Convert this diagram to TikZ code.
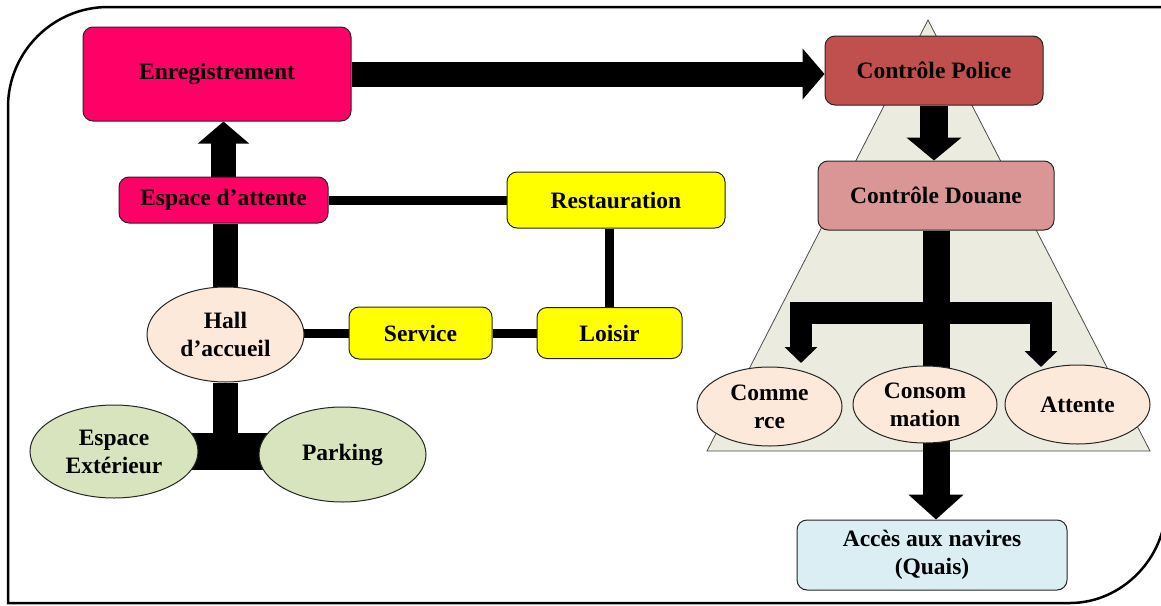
\documentclass[tikz,border=0pt]{standalone}
\usepackage{fontspec}
\setmainfont{Liberation Serif}
\usetikzlibrary{arrows.meta,shapes.geometric}
\definecolor{FlowPink}{HTML}{FF0066}
\definecolor{FlowRed}{HTML}{C0504D}
\definecolor{FlowRose}{HTML}{D99694}
\definecolor{FlowYellow}{HTML}{FFFF00}
\definecolor{FlowPeach}{HTML}{FDE9D9}
\definecolor{FlowGreen}{HTML}{D7E4BD}
\definecolor{FlowBlue}{HTML}{DBEEF3}
\definecolor{FlowSand}{HTML}{ECEBE0}
\pgfdeclarelayer{background}
\pgfsetlayers{background,main}
\tikzset{
  every node/.style={font=\bfseries\fontsize{23.5}{28}\selectfont, text=black, align=center},
  box/.style={draw=black!85, line width=1pt, rounded corners=10pt, inner sep=0pt},
  zone/.style={ellipse, draw=black!85, line width=1pt, inner sep=0pt},
  frame/.style={draw=black, line width=2.5pt},
  link/.style={draw=black, line width=9pt},
  trunk/.style={draw=black, line width=25pt},
  flow/.style={-{Triangle[length=22pt,width=50pt]}, draw=black, line width=25pt},
  branch/.style={-{Triangle[length=16pt,width=32pt]}, draw=black, line width=22pt},
}

\begin{document}
\begin{tikzpicture}[x=1pt,y=-1pt]
  \useasboundingbox (0,0) rectangle (1161,605);

  % Landside: check-in and the hall
  \node[box, fill=FlowPink, minimum width=268, minimum height=94] (enreg) at (217,74) {Enregistrement};
  \node[box, fill=FlowPink, minimum width=209, minimum height=46] (attente) at (223.5,200) {Espace d’attente};
  \node[box, fill=FlowYellow, minimum width=218, minimum height=56] (resto) at (616,200) {Restauration};
  \node[box, fill=FlowYellow, minimum width=143, minimum height=52] (service) at (420.5,333) {Service};
  \node[box, fill=FlowYellow, minimum width=145, minimum height=51] (loisir) at (609.5,333) {Loisir};
  \node[zone, fill=FlowPeach, minimum width=157, minimum height=95] (hall) at (225.5,334.5) {Hall\\d’accueil};
  \node[zone, fill=FlowGreen, minimum width=168, minimum height=93] (exterieur) at (114,451.5) {Espace\\Extérieur};
  \node[zone, fill=FlowGreen, minimum width=167, minimum height=95] (parking) at (342.5,454.5) {Parking};

  % Controlled side: police, customs, then boarding
  \node[box, fill=FlowRed, minimum width=218, minimum height=69] (police) at (934,70.5) {Contrôle Police};
  \node[box, fill=FlowRose, minimum width=236, minimum height=69] (douane) at (936,195.5) {Contrôle Douane};
  \node[zone, fill=FlowPeach, minimum width=145, minimum height=79] (commerce) at (769.5,406.5) {Comme\\rce};
  \node[zone, fill=FlowPeach, minimum width=144, minimum height=77] (conso) at (925,404.5) {Consom\\mation};
  \node[zone, fill=FlowPeach, minimum width=145, minimum height=79] (attenteq) at (1077.5,404.5) {Attente};
  \node[box, fill=FlowBlue, minimum width=270, minimum height=70] (acces) at (932,555) {Accès aux navires\\(Quais)};

  \coordinate (fork) at (936,313);
  \coordinate (toCommerce) at (801,363);
  \coordinate (toAttente) at (1041,367);

  \begin{pgfonlayer}{background}
    % outer frame, rounded top left and bottom right
    \draw[frame] (1175,7) -- (108,7) .. controls (53,7) and (8,52) .. (8,107)
      -- (8,603) -- (1070,603) .. controls (1122,603) and (1166,558) .. (1166,505) -- (1166,0);

    % zone of the controlled side
    \draw[draw=black!70, line width=0.8pt, fill=FlowSand] (928,20) -- (707,451) -- (1150,451) -- cycle;

    % main flow
    \draw[flow] (enreg.east) -- (police.west |- enreg.east);
    \draw[flow] (attente.north) -- (attente.north |- enreg.south);
    \draw[flow, line width=28pt, -{Triangle[length=23pt,width=54pt]}] (police.south) -- (police.south |- douane.north);
    \draw[flow, line width=27pt, -{Triangle[length=25pt,width=54pt]}] (douane.south) -- (douane.south |- acces.north);
    \draw[branch] (fork) -| (toCommerce);
    \draw[branch] (fork) -| (toAttente);

    % hall links
    \draw[trunk] (hall.north) -- (hall.north |- attente.south);
    \draw[trunk] (hall.south) -- (hall.south |- exterieur.east);
    \draw[trunk, line width=37pt] (exterieur.center) -- (exterieur.center -| parking.center);
    \draw[link] (attente.east) -- (resto.west);
    \draw[link] (loisir.north) -- (loisir.north |- resto.south);
    \draw[link] (hall.center |- service.west) -- (service.west);
    \draw[link] (service.east) -- (loisir.west);
  \end{pgfonlayer}
\end{tikzpicture}
\end{document}
